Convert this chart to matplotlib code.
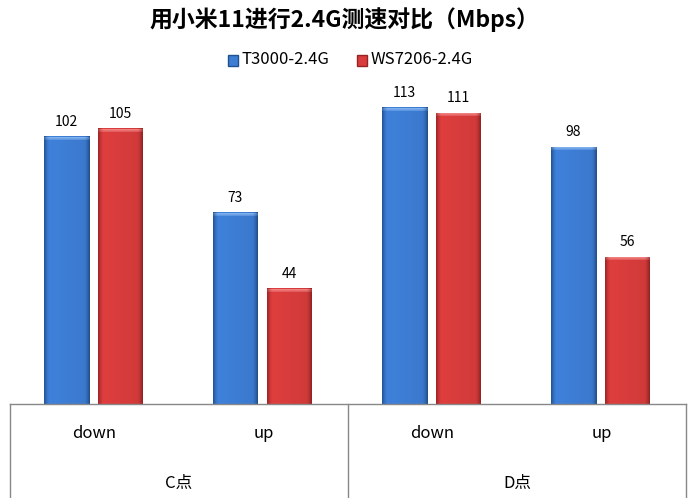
import numpy as np
import matplotlib.pyplot as plt
from matplotlib.lines import Line2D
from matplotlib.colors import to_rgb

plt.rcParams['font.family'] = ['Noto Sans CJK SC', 'DejaVu Sans']

title = '用小米11进行2.4G测速对比（Mbps）'
groups = ['C点', 'D点']
subcats = ['down', 'up', 'down', 'up']
series = ['T3000-2.4G', 'WS7206-2.4G']
t3000 = [102, 73, 113, 98]
ws7206 = [105, 44, 111, 56]

# dark edge / main fill / top rim
shades = [('#23508f', '#3d7dd4', '#7fb0ee'), ('#962424', '#d83c3c', '#f08080')]

fig = plt.figure(figsize=(6.89, 4.98), dpi=100)
W, H = 689, 498
ax = fig.add_axes([10 / W, 1 - 404 / H, 676 / W, (404 - 60) / H])
ax.set_xlim(0, 4)
ax.set_ylim(0, 131.3)
ax.axis('off')
unit_px = 344 / 131.3


def shaded_bar(x0, x1, h, dark, fill, rim):
    d, f = np.array(to_rgb(dark)), np.array(to_rgb(fill))
    t = np.linspace(0, 1, 80)
    # flat middle, darker toward both sides
    edge = np.clip(1 - np.minimum(t, 1 - t) / 0.12, 0, 1) ** 1.5
    row = f + (d - f) * edge[:, None]
    row = row * (1.04 - 0.08 * t[:, None])
    img = np.repeat(row[None, :, :], 2, axis=0)
    ax.imshow(np.clip(img, 0, 1), extent=(x0, x1, 0, h), aspect='auto',
              interpolation='bilinear', zorder=2)
    # thin lighter rim at the top
    rim_h = 3 / unit_px
    r = np.array(to_rgb(rim))
    rim_row = r + (d - r) * edge[:, None] * 0.7
    rim_img = np.stack([rim_row, (rim_row + row) / 2], axis=0)
    ax.imshow(np.clip(rim_img, 0, 1), extent=(x0, x1, h - rim_h, h),
              aspect='auto', interpolation='bilinear', zorder=3)


bw = 45 / 169
gap = 9 / 169
for i, vals in enumerate([t3000, ws7206]):
    for j, v in enumerate(vals):
        x0 = j + 34 / 169 + i * (bw + gap)
        shaded_bar(x0, x0 + bw, v, *shades[i])
        ax.text(x0 + bw / 2, v + 3, str(v), ha='center', va='bottom',
                fontsize=10, color='black')

# category axis boxes underneath
line_kw = dict(color='#888888', lw=1, transform=fig.transFigure)
fig.add_artist(Line2D([10 / W, 686 / W], [1 - 404 / H] * 2, **line_kw))
for xp in [10, 348, 686]:
    fig.add_artist(Line2D([xp / W] * 2, [0, 1 - 404 / H], **line_kw))

for j, name in enumerate(subcats):
    fig.text((10 + 169 * (j + 0.5)) / W, 1 - 434 / H, name, ha='center',
             va='center', fontsize=12)
for k, g in enumerate(groups):
    fig.text((10 + 338 * (k + 0.5)) / W, 1 - 483 / H, g, ha='center',
             va='center', fontsize=12)

fig.text(0.5, 1 - 20 / H, title, ha='center', va='center', fontsize=16.5,
         fontweight='bold')

# legend
for i, (name, x) in enumerate(zip(series, [228, 357])):
    fig.patches.append(plt.Rectangle((x / W, 1 - 66 / H), 10 / W, 11 / H,
                                     transform=fig.transFigure,
                                     color=shades[i][1], ec=shades[i][0]))
    fig.text((x + 14) / W, 1 - 60 / H, name, ha='left', va='center',
             fontsize=12)

fig.savefig('out.png', dpi=100)
